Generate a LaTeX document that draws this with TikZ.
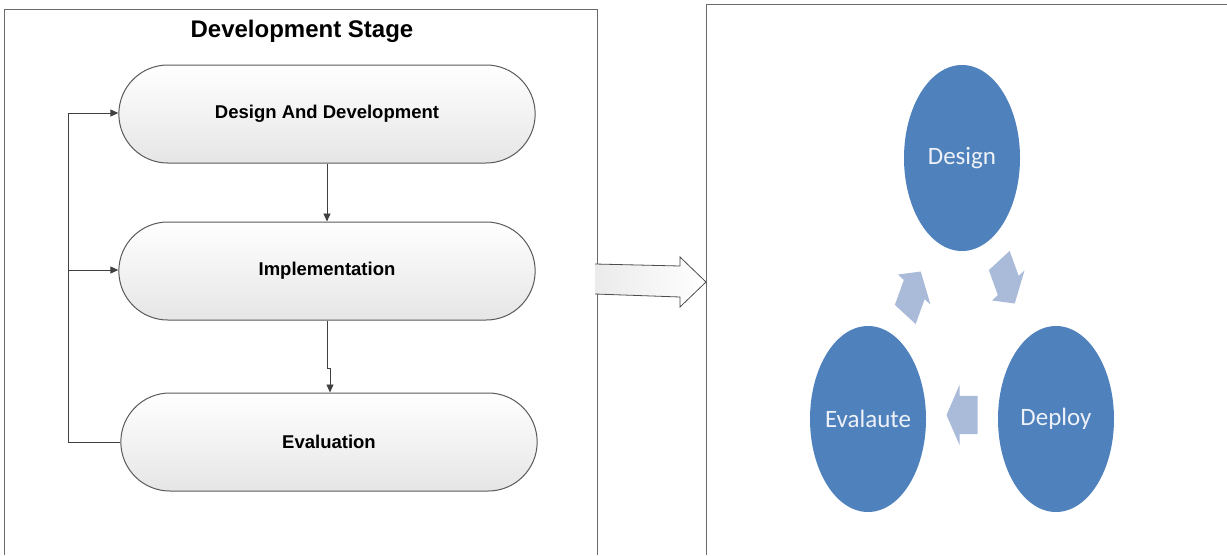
\documentclass[tikz,border=0pt]{standalone}
\usepackage{fontspec}
\setmainfont{Liberation Sans}
\newfontfamily\cyclefont{Carlito}
\usetikzlibrary{shapes.misc,shapes.geometric,arrows.meta}
\definecolor{framegray}{HTML}{6A6A6A}
\definecolor{pillline}{HTML}{5A5A5A}
\definecolor{cycleblue}{HTML}{4F81BD}
\definecolor{cyclearrow}{HTML}{A9BBD9}
\definecolor{cycletext}{HTML}{EEF2F8}
\tikzset{
  pill/.style={rounded rectangle, draw=pillline, line width=1pt,
    top color=white, bottom color=black!10, minimum width=423pt,
    minimum height=98pt, font=\bfseries\fontsize{18.5}{20}\selectfont},
  framebox/.style={draw=framegray, line width=1pt},
  flow/.style={draw=black!75, line width=0.9pt, -{Triangle[length=8pt,width=7pt]}},
  loopline/.style={draw=black!75, line width=0.9pt},
  stagecircle/.style={ellipse, fill=cycleblue, draw=none, inner sep=0pt,
    minimum width=116pt, minimum height=186pt, text=cycletext,
    font=\cyclefont\fontsize{25}{28}\selectfont},
  cyclearrowshape/.style={fill=cyclearrow, draw=none},
  bigarrow/.style={draw=black!70, line width=0.8pt, left color=black!8, right color=white}
}
% block arrow along +x, centred on the origin; the cycle is stretched vertically
\newcommand\cycarrow[3]{%
  \fill[cyclearrowshape, shift={(#1,#2)}, yscale=1.6, rotate=#3]
    (-15.5,-12) -- (2.5,-12) -- (2.5,-18.75) -- (15.5,0) -- (2.5,18.75)
    -- (2.5,12) -- (-15.5,12) -- cycle;}
\begin{document}
\begin{tikzpicture}[x=1pt,y=-1pt]
\useasboundingbox (0,0) rectangle (1227,555);
\fill[white] (0,0) rectangle (1227,555);

% left panel
\draw[framebox] (4,555) -- (4,9.5) -- (597,9.5) -- (597,555);
\node (title) at (302,31) {\bfseries\fontsize{24}{26}\selectfont Development Stage};

\node[pill] (dd) at (327,114) {Design And Development};
\node[pill] (impl) at (327,271) {Implementation};
\node[pill] (eval) at (329,442) {Evaluation};

\coordinate (jog1) at (327,368);
\coordinate (jog2) at (330,368);
\coordinate (loopb) at (68,442);
\coordinate (loopm) at (68,270);
\coordinate (loopt) at (68,113);

\draw[flow] (dd.south -| 327,0) -- (impl.north -| 327,0);
\draw[flow] (impl.south -| 327,0) -- (jog1) -- (jog2) -- (eval.north -| 330,0);
\draw[loopline] (eval.west) -- (loopb) -- (loopt);
\draw[flow] (loopt) -- (dd.west |- loopt);
\draw[flow] (loopm) -- (impl.west |- loopm);

% transition arrow
\draw[bigarrow] (595,264) -- (680,266) -- (680,257) -- (706,282) -- (680,307) -- (680,297) -- (595,294);

% right panel
\draw[framebox] (706,555) -- (706,4.5) -- (1227,4.5);

\node[stagecircle] (design) at (962,158) {\makebox[0pt]{Design}};
\node[stagecircle] (evaluate) at (868,419) {\makebox[0pt]{Evalaute}};
\node[stagecircle] (deploy) at (1056,419) {\makebox[0pt]{Deploy}};

\cycarrow{913}{293}{60}
\cycarrow{1007}{282}{-60}
\cycarrow{962}{415}{180}
\end{tikzpicture}
\end{document}
